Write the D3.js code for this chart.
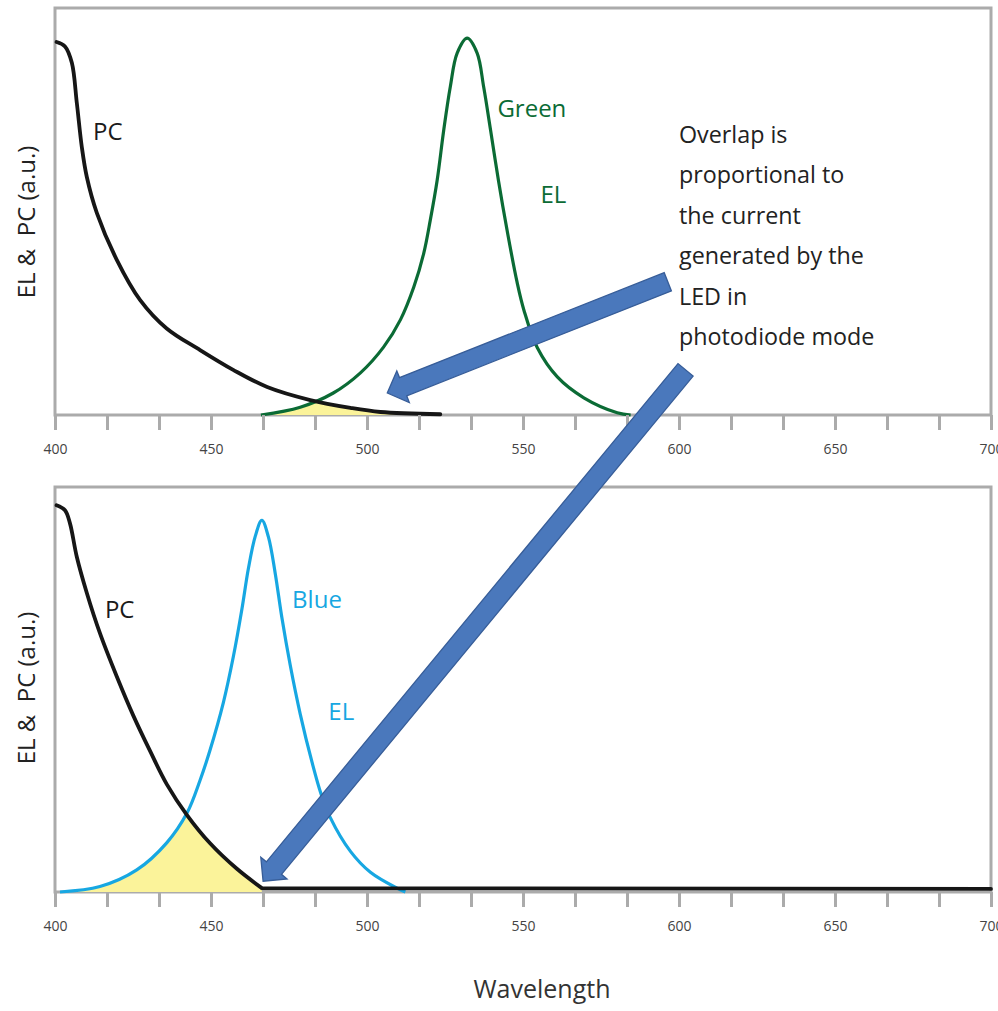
<!DOCTYPE html>
<html>
<head>
<meta charset="utf-8">
<script src="https://cdn.jsdelivr.net/npm/d3@7"></script>
<style>
  html, body { margin: 0; padding: 0; background: #fff; }
  svg { display: block; font-family: "Open Sans", "DejaVu Sans", sans-serif; }
</style>
</head>
<body>
<svg id="chart" width="998" height="1011"></svg>
<script>
// Wavelength axis: labelled every 50 nm, with two unlabelled ticks between labels
const wavelengthLabels = [400, 450, 500, 550, 600, 650, 700];
const ticksPerLabel = 3;

// Photocurrent (PC) response of the green LED, [wavelength nm, a.u.]
const pcGreen = [
  [400.5, 1.000], [403.2, 0.988], [405.4, 0.944], [407.0, 0.836], [408.6, 0.718],
  [410.2, 0.638], [413.4, 0.542], [419.8, 0.416], [427.3, 0.308], [435.8, 0.232],
  [446.5, 0.174], [457.1, 0.121], [468.0, 0.075], [481.8, 0.040], [494.7, 0.019],
  [504.3, 0.008], [523.5, 0.002]
];

// Electroluminescence (EL) of the green LED
const elGreen = [
  [466.0, 0.000], [478.6, 0.021], [489.2, 0.059], [497.9, 0.113], [505.3, 0.182],
  [510.7, 0.255], [515.0, 0.343], [518.2, 0.434], [520.3, 0.523], [522.5, 0.630],
  [524.6, 0.764], [526.7, 0.880], [528.9, 0.970], [532.1, 1.010], [535.3, 0.970],
  [537.4, 0.879], [539.6, 0.764], [542.2, 0.625], [544.9, 0.495], [548.1, 0.356],
  [550.3, 0.281], [554.6, 0.180], [561.0, 0.102], [569.5, 0.046], [580.2, 0.006],
  [584.5, 0.000]
];

// Photocurrent (PC) response of the blue LED
const pcBlue = [
  [400.5, 1.000], [403.2, 0.987], [404.8, 0.953], [407.0, 0.866], [410.2, 0.773],
  [414.4, 0.669], [419.8, 0.557], [425.1, 0.456], [430.5, 0.364], [435.8, 0.279],
  [442.3, 0.199], [449.7, 0.126], [458.3, 0.060], [466.3, 0.010], [700.0, 0.008]
];

// Electroluminescence (EL) of the blue LED
const elBlue = [
  [401.6, 0.000], [414.4, 0.014], [426.2, 0.057], [435.8, 0.127], [442.3, 0.204],
  [446.5, 0.289], [449.7, 0.367], [454.0, 0.491], [457.2, 0.610], [459.9, 0.731],
  [462.0, 0.837], [464.2, 0.920], [466.3, 0.961], [468.4, 0.918], [470.6, 0.823],
  [472.7, 0.710], [475.4, 0.586], [478.6, 0.460], [482.4, 0.335], [485.3, 0.253],
  [488.2, 0.193], [494.7, 0.105], [501.1, 0.051], [509.6, 0.010], [512.3, 0.000]
];

const annotationLines = [
  "Overlap is", "proportional to", "the current",
  "generated by the", "LED in", "photodiode mode"
];

const W = 998, H = 1011;
const svg = d3.select("#chart");
svg.append("rect").attr("width", W).attr("height", H).attr("fill", "#fff");

const x = d3.scaleLinear().domain([400, 700]).range([55, 991]);
const smooth = d3.curveCatmullRom.alpha(0.5);

const panels = [
  {
    id: "green", top: 8, bottom: 415, yMax: 1.091, titleY: 222,
    pc: pcGreen, el: elGreen, elColor: "#0b6b35",
    labels: [
      { text: "PC", wl: 412.2, v: 0.737, color: "#1a1a1a" },
      { text: "Green", wl: 541.8, v: 0.799, color: "#0b6b35" },
      { text: "EL", wl: 555.6, v: 0.568, color: "#0b6b35" }
    ]
  },
  {
    id: "blue", top: 487, bottom: 892, yMax: 1.047, titleY: 688,
    pc: pcBlue, el: elBlue, elColor: "#17a7e2",
    labels: [
      { text: "PC", wl: 416.0, v: 0.708, color: "#1a1a1a" },
      { text: "Blue", wl: 476.0, v: 0.734, color: "#17a7e2" },
      { text: "EL", wl: 487.6, v: 0.444, color: "#17a7e2" }
    ]
  }
];

const step = (wavelengthLabels[1] - wavelengthLabels[0]) / ticksPerLabel;
const tickVals = d3.range(0, (wavelengthLabels.length - 1) * ticksPerLabel + 1)
  .map(i => wavelengthLabels[0] + i * step);
const isLabelled = d => wavelengthLabels.some(l => Math.abs(l - d) < 1e-6);

const defs = svg.append("defs");

panels.forEach(p => {
  p.y = d3.scaleLinear().domain([0, p.yMax]).range([p.bottom, p.top]);

  // split the PC curve into its falling part and any flat tail
  let cut = p.pc.length;
  for (let i = 1; i < p.pc.length; i++) {
    if (p.pc[i][1] >= p.pc[i - 1][1] || p.pc[i][0] - p.pc[i - 1][0] > 100) { cut = i; break; }
  }
  const pcFall = p.pc.slice(0, cut);
  const pcTail = cut < p.pc.length ? p.pc.slice(cut - 1) : [];

  const lineSmooth = d3.line().x(d => x(d[0])).y(d => p.y(d[1])).curve(smooth);
  const lineLin = d3.line().x(d => x(d[0])).y(d => p.y(d[1]));
  const areaSmooth = d3.area().x(d => x(d[0])).y0(p.y(0)).y1(d => p.y(d[1])).curve(smooth);

  const g = svg.append("g").attr("class", "panel-" + p.id);

  // frame
  g.append("rect")
    .attr("x", x(400)).attr("y", p.top)
    .attr("width", x(700) - x(400)).attr("height", p.bottom - p.top)
    .attr("fill", "none").attr("stroke", "#ababab").attr("stroke-width", 3);

  // overlap of PC and EL: area under PC clipped to the area under EL
  defs.append("clipPath").attr("id", "clip-el-" + p.id)
    .append("path").attr("d", areaSmooth(p.el));
  g.append("path")
    .attr("d", areaSmooth(pcFall))
    .attr("fill", "#fbf39a")
    .attr("clip-path", "url(#clip-el-" + p.id + ")");

  // EL spectrum
  g.append("path")
    .attr("d", lineSmooth(p.el))
    .attr("fill", "none").attr("stroke", p.elColor).attr("stroke-width", 3.2);

  // PC response
  g.append("path")
    .attr("d", lineSmooth(pcFall) + (pcTail.length ? lineLin(pcTail) : ""))
    .attr("fill", "none").attr("stroke", "#161616").attr("stroke-width", 3.8)
    .attr("stroke-linecap", "round").attr("stroke-linejoin", "round");

  // x axis ticks
  const axis = g.append("g")
    .attr("transform", `translate(0,${p.bottom})`)
    .call(d3.axisBottom(x)
      .tickValues(tickVals)
      .tickSize(15).tickSizeOuter(0).tickPadding(14)
      .tickFormat(d => isLabelled(d) ? d3.format("d")(Math.round(d)) : ""));
  axis.select(".domain").remove();
  axis.selectAll(".tick line").attr("stroke", "#ababab").attr("stroke-width", 3);
  axis.selectAll(".tick text")
    .attr("fill", "#444")
    .style("font-size", "14px")
    .style("font-family", "'Open Sans', sans-serif");

  // y axis title
  g.append("text")
    .attr("transform", `translate(35,${p.titleY}) rotate(-90)`)
    .attr("text-anchor", "middle")
    .attr("fill", "#222")
    .style("font-size", "24px")
    .style("white-space", "pre")
    .text("EL &  PC (a.u.)");

  // curve labels
  g.selectAll("text.curve-label")
    .data(p.labels)
    .enter().append("text")
    .attr("class", "curve-label")
    .attr("x", d => x(d.wl))
    .attr("y", d => p.y(d.v))
    .attr("fill", d => d.color)
    .style("font-size", "24px")
    .text(d => d.text);
});

// x axis title
svg.append("text")
  .attr("x", 542).attr("y", 998)
  .attr("text-anchor", "middle")
  .attr("fill", "#333")
  .style("font-size", "25px")
  .text("Wavelength");

// explanatory note
const topY = panels[0].y;
const note = svg.append("text")
  .attr("x", x(600)).attr("y", topY(0.729))
  .attr("fill", "#222")
  .style("font-size", "23.3px");
note.selectAll("tspan")
  .data(annotationLines)
  .enter().append("tspan")
  .attr("x", x(600))
  .attr("dy", (d, i) => i === 0 ? 0 : 40.4)
  .text(d => d);

// block arrows pointing from the note to the overlap regions
const arrows = [
  { from: { panel: 0, wl: 596.4, v: 0.357 }, to: { panel: 0, wl: 506.5, v: 0.059 } },
  { from: { panel: 0, wl: 602.1, v: 0.121 }, to: { panel: 1, wl: 466.7, v: 0.028 } }
];
function blockArrow(x0, y0, x1, y1, shaft, headLen, headHalf) {
  const len = Math.hypot(x1 - x0, y1 - y0);
  const ux = (x1 - x0) / len, uy = (y1 - y0) / len;
  const nx = -uy, ny = ux;
  const bx = x1 - ux * headLen, by = y1 - uy * headLen;
  const pts = [
    [x0 + nx * shaft, y0 + ny * shaft],
    [bx + nx * shaft, by + ny * shaft],
    [bx + nx * headHalf, by + ny * headHalf],
    [x1, y1],
    [bx - nx * headHalf, by - ny * headHalf],
    [bx - nx * shaft, by - ny * shaft],
    [x0 - nx * shaft, y0 - ny * shaft]
  ];
  return "M" + pts.map(q => q[0].toFixed(1) + "," + q[1].toFixed(1)).join("L") + "Z";
}
svg.append("g").attr("class", "arrows")
  .selectAll("path")
  .data(arrows)
  .enter().append("path")
  .attr("d", a => blockArrow(
    x(a.from.wl), panels[a.from.panel].y(a.from.v),
    x(a.to.wl), panels[a.to.panel].y(a.to.v),
    9.8, 17, 17))
  .attr("fill", "#4a78bc")
  .attr("stroke", "#375d98")
  .attr("stroke-width", 1.3)
  .attr("stroke-linejoin", "miter");
</script>
</body>
</html>
